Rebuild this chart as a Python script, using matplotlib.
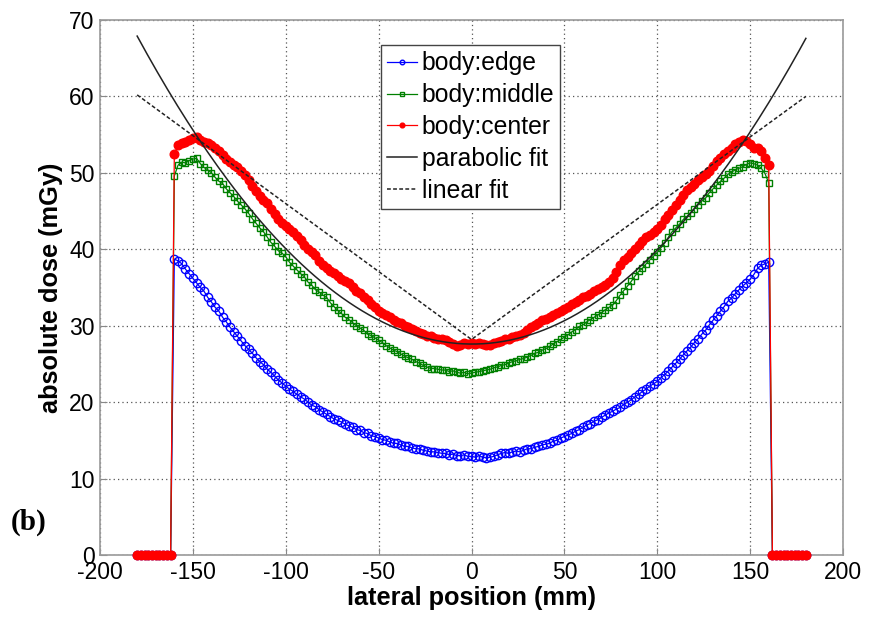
from __future__ import annotations

import numpy as np
import matplotlib

matplotlib.use("Agg")
import matplotlib.pyplot as plt

# lateral positions (mm), 2 mm sampling; outside the phantom the dose is zero
lateral_mm = np.arange(-180, 181, 2)

edge_dose = [0.0] * 10 + [
    38.7, 38.5, 38.1, 37.4, 36.8, 36.2, 35.6, 35.0, 34.5, 33.7,
    33.1, 32.4, 31.9, 31.1, 30.5, 29.8, 29.2, 28.6, 28.0, 27.4,
    26.9, 26.4, 25.8, 25.3, 24.9, 24.3, 23.9, 23.4, 22.9, 22.5,
    22.1, 21.7, 21.4, 21.0, 20.7, 20.4, 20.0, 19.6, 19.4, 19.0,
    18.7, 18.4, 18.1, 17.8, 17.6, 17.4, 17.1, 16.9, 16.7, 16.4,
    16.3, 16.0, 15.9, 15.6, 15.5, 15.3, 15.1, 15.0, 14.8, 14.6,
    14.6, 14.4, 14.2, 14.2, 14.0, 13.9, 13.9, 13.7, 13.6, 13.5,
    13.5, 13.4, 13.3, 13.3, 13.1, 13.2, 13.0, 13.0, 13.1, 12.9,
    12.9, 12.8, 13.0, 12.8, 12.7, 12.8, 12.9, 13.1, 13.3, 13.4,
    13.3, 13.5, 13.6, 13.5, 13.7, 13.9, 13.9, 14.1, 14.2, 14.4,
    14.5, 14.6, 14.9, 15.0, 15.3, 15.5, 15.7, 15.9, 16.2, 16.4,
    16.7, 17.0, 17.2, 17.5, 17.7, 18.0, 18.3, 18.6, 18.8, 19.1,
    19.3, 19.7, 20.0, 20.3, 20.7, 21.0, 21.4, 21.7, 22.1, 22.4,
    22.7, 23.2, 23.6, 24.1, 24.6, 25.1, 25.6, 26.2, 26.7, 27.2,
    27.8, 28.3, 28.9, 29.4, 30.1, 30.7, 31.3, 31.9, 32.5, 33.2,
    33.6, 34.2, 34.7, 35.2, 35.6, 36.1, 36.7, 37.5, 37.9, 38.1,
    38.3,
] + [0.0] * 10

middle_dose = [0.0] * 10 + [
    49.6, 51.0, 51.4, 51.3, 51.6, 51.8, 51.9, 51.2, 50.7, 50.4,
    50.0, 49.4, 48.9, 48.6, 47.9, 47.4, 46.9, 46.3, 45.8, 45.3,
    44.7, 44.0, 43.4, 42.8, 42.3, 41.6, 40.9, 40.4, 39.8, 39.5,
    39.0, 38.3, 37.8, 37.3, 36.8, 36.4, 35.7, 35.3, 34.7, 34.4,
    34.0, 33.7, 33.0, 32.5, 32.0, 31.6, 31.1, 30.8, 30.4, 30.0,
    29.7, 29.4, 28.9, 28.7, 28.4, 28.1, 27.8, 27.4, 27.1, 26.8,
    26.6, 26.3, 26.0, 25.8, 25.6, 25.3, 25.1, 24.8, 24.6, 24.4,
    24.4, 24.3, 24.2, 24.2, 24.0, 24.1, 23.9, 23.8, 23.9, 23.7,
    23.8, 23.9, 24.0, 24.1, 24.2, 24.3, 24.5, 24.6, 24.8, 24.9,
    25.1, 25.3, 25.4, 25.6, 25.7, 25.9, 26.1, 26.4, 26.5, 26.8,
    27.0, 27.3, 27.6, 27.9, 28.2, 28.5, 28.8, 29.2, 29.5, 29.9,
    30.1, 30.5, 30.8, 31.1, 31.4, 31.7, 32.1, 32.4, 32.7, 33.3,
    34.0, 34.6, 35.2, 35.8, 36.5, 37.1, 37.5, 38.1, 38.6, 39.1,
    39.6, 40.2, 40.8, 41.6, 42.3, 42.8, 43.3, 43.9, 44.3, 44.8,
    45.3, 45.8, 46.3, 46.7, 47.4, 47.9, 48.4, 48.9, 49.3, 49.8,
    50.1, 50.4, 50.6, 50.8, 51.1, 51.3, 51.2, 51.0, 50.6, 49.9,
    48.7,
] + [0.0] * 10

center_dose = [0.0] * 10 + [
    52.5, 53.6, 53.9, 54.0, 54.3, 54.5, 54.7, 54.3, 54.1, 53.9,
    53.6, 53.3, 52.8, 52.3, 51.8, 51.4, 51.0, 50.7, 50.3, 49.7,
    49.1, 48.3, 47.6, 47.0, 46.4, 46.0, 45.3, 44.6, 44.0, 43.5,
    43.1, 42.6, 42.2, 41.7, 41.2, 40.6, 40.0, 39.7, 39.2, 38.5,
    38.0, 37.5, 37.2, 36.9, 36.5, 36.1, 35.9, 35.6, 35.0, 34.6,
    34.3, 33.8, 33.4, 32.9, 32.4, 31.9, 31.7, 31.4, 31.2, 30.8,
    30.5, 30.3, 30.0, 29.8, 29.6, 29.3, 29.1, 28.9, 28.7, 28.6,
    28.4, 28.3, 28.2, 28.1, 27.9, 27.6, 27.3, 27.5, 27.7, 27.6,
    27.7, 27.6, 27.7, 27.6, 27.5, 27.5, 27.7, 27.9, 28.0, 28.2,
    28.3, 28.5, 28.7, 28.8, 29.1, 29.5, 29.8, 30.1, 30.4, 30.7,
    30.9, 31.2, 31.4, 31.6, 31.9, 32.2, 32.5, 32.8, 33.1, 33.4,
    33.7, 33.9, 34.2, 34.5, 34.8, 35.0, 35.3, 35.7, 36.2, 37.0,
    37.9, 38.6, 39.0, 39.5, 40.1, 40.6, 41.1, 41.6, 41.9, 42.2,
    42.6, 43.2, 43.9, 44.5, 45.1, 45.8, 46.4, 47.1, 47.7, 48.1,
    48.6, 49.0, 49.4, 49.8, 50.3, 50.9, 51.6, 52.0, 52.5, 52.9,
    53.3, 53.8, 54.0, 54.3, 54.2, 53.8, 53.3, 53.2, 52.8, 51.9,
    51.0,
] + [0.0] * 10

# fit curves
parabolic_coef = [0.001239, -0.00083, 27.6]  # a*x^2 + b*x + c
linear_fit_x = [-180, 0, 180]
linear_fit_y = [60.2, 28.2, 60.0]

x_ticks = [-200, -150, -100, -50, 0, 50, 100, 150, 200]
y_ticks = [0, 10, 20, 30, 40, 50, 60, 70]


def main() -> None:
    plt.rcParams["font.family"] = ["Liberation Sans", "DejaVu Sans"]
    plt.rcParams["axes.unicode_minus"] = False
    fig = plt.figure(figsize=(8.69, 6.17), dpi=100)
    ax = fig.add_axes([0.1151, 0.1005, 0.8550, 0.8671])

    # markers sitting on y=0 must not be cut by the axes, and sit above the spine
    ax.plot(lateral_mm, edge_dose, color="#0000ff", lw=0.9, marker="o", ms=6.0,
            mfc="none", mec="#0000ff", mew=1.0, label="body:edge", clip_on=False,
            zorder=3)
    ax.plot(lateral_mm, middle_dose, color="#008000", lw=0.9, marker="s", ms=4.9,
            mfc="none", mec="#008000", mew=1.0, label="body:middle", clip_on=False,
            zorder=3)
    ax.plot(lateral_mm, center_dose, color="#ff0000", lw=0.9, marker="o", ms=6.2,
            mfc="#ff0000", mec="#ff0000", label="body:center", clip_on=False,
            zorder=3)

    fit_x = np.linspace(-180, 180, 200)
    ax.plot(fit_x, np.polyval(parabolic_coef, fit_x), color="#222222", lw=1.1,
            label="parabolic fit", zorder=3)
    ax.plot(linear_fit_x, linear_fit_y, color="#222222", lw=1.1,
            linestyle=(0, (2.5, 1.5)), label="linear fit", zorder=3)

    ax.set_xlim(-200, 200)
    ax.set_ylim(0, 70)
    ax.set_xticks(x_ticks)
    ax.set_yticks(y_ticks)
    ax.tick_params(direction="in", length=5, color="#888888", labelsize=16.5, pad=4)
    ax.grid(True, color="#555555", linestyle=(0, (1, 2.5)), lw=0.9)
    for spine in ax.spines.values():
        spine.set_color("#999999")
        spine.set_linewidth(1.2)

    ax.set_xlabel("lateral position (mm)", fontsize=18.3, fontweight="bold", labelpad=2)
    ax.set_ylabel("absolute dose (mGy)", fontsize=18.3, fontweight="bold", labelpad=4)

    leg = ax.legend(loc="upper left", bbox_to_anchor=(0.378, 0.953), borderaxespad=0,
                    fontsize=17.8, handlelength=1.2, handletextpad=0.2,
                    labelspacing=0.32, borderpad=0.25, fancybox=False, framealpha=1,
                    markerscale=0.55)
    leg.set_zorder(5)
    leg.get_frame().set_edgecolor("#444444")
    leg.get_frame().set_linewidth(1.0)

    fig.text(29 / 869, 1 - 522 / 617, "(b)", fontsize=21, fontweight="bold",
             family="Liberation Serif", ha="center", va="center")

    fig.savefig("out.png", dpi=100)
    plt.close(fig)


if __name__ == "__main__":
    main()
